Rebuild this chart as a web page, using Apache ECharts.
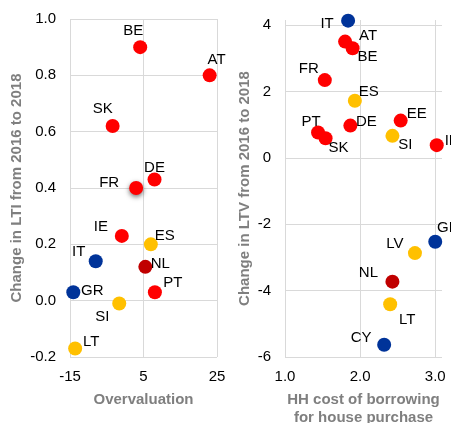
<!DOCTYPE html>
<html>
<head>
<meta charset="utf-8">
<style>
  html, body { margin: 0; padding: 0; background: #ffffff; }
  #chart { width: 451px; height: 423px; }
</style>
<script src="https://cdn.jsdelivr.net/npm/echarts@6/dist/echarts.min.js"></script>
</head>
<body>
<div id="chart"></div>
<script>
// Left panel: change in loan-to-income vs overvaluation
const ltiCountries = ['BE', 'AT', 'SK', 'DE', 'FR', 'IE', 'ES', 'IT', 'NL', 'GR', 'PT', 'SI', 'LT'];
const ltiOvervaluation = [4.1, 23.0, -3.4, 8.0, 3.0, -0.9, 7.0, -8.0, 5.5, -14.1, 8.1, -1.6, -13.6];
const ltiChange = [0.90, 0.80, 0.62, 0.43, 0.40, 0.23, 0.20, 0.14, 0.12, 0.03, 0.03, -0.01, -0.17];
const ltiGroup = ['A', 'A', 'A', 'A', 'A', 'A', 'C', 'B', 'D', 'B', 'A', 'C', 'C'];

// Right panel: change in loan-to-value vs household cost of borrowing
const ltvCountries = ['IT', 'AT', 'BE', 'FR', 'ES', 'EE', 'DE', 'PT', 'SK', 'SI', 'IE', 'GR', 'LV', 'NL', 'LT', 'CY'];
const ltvCost = [1.84, 1.80, 1.90, 1.53, 1.93, 2.54, 1.87, 1.44, 1.54, 2.43, 3.02, 3.00, 2.73, 2.43, 2.40, 2.32];
const ltvChange = [4.13, 3.50, 3.30, 2.34, 1.72, 1.12, 0.97, 0.76, 0.59, 0.66, 0.38, -2.53, -2.87, -3.73, -4.41, -5.63];
const ltvGroup = ['B', 'A', 'A', 'A', 'C', 'A', 'A', 'A', 'A', 'C', 'A', 'B', 'C', 'D', 'C', 'B'];

// Axis ticks
const ltiXTicks = [-15, 5, 25];
const ltiYTicks = [-0.2, 0.0, 0.2, 0.4, 0.6, 0.8, 1.0];
const ltvXTicks = [1.0, 2.0, 3.0];
const ltvYTicks = [-6, -4, -2, 0, 2, 4];

// Styling
const groupColors = { A: '#ff0000', B: '#003399', C: '#ffc000', D: '#c00000' };
const FONT = '"Liberation Sans", Arial, sans-serif';
const GRID_COLOR = '#d9d9d9';
const TITLE_COLOR = '#7f7f7f';

// Label placement around each marker (pixels from marker centre)
const ltiLabelOffsets = {
  BE: [-7, -16], AT: [7, -15], SK: [-10, -17], DE: [0, -12], FR: [-27, -5],
  IE: [-21, -9], ES: [14, -8], IT: [-17, -9], NL: [15, -3], GR: [19, -1],
  PT: [18, -9], SI: [-17, 13], LT: [16, -7]
};
const ltvLabelOffsets = {
  IT: [-21, 3], AT: [23, -6], BE: [15, 9], FR: [-16, -11], ES: [14, -9],
  EE: [16, -7], DE: [16, -4], PT: [-7, -11], SK: [13, 10], SI: [13, 9],
  IE: [15, -4], GR: [13, -14], LV: [-20, -9], NL: [-24, -9], LT: [17, 16],
  CY: [-23, -7]
};
const ltiShadowed = ['FR'];

function buildPoints(names, xs, ys, groups, offsets, shadowed) {
  return names.map(function (name, i) {
    const item = {
      name: name,
      value: [xs[i], ys[i]],
      itemStyle: { color: groupColors[groups[i]], opacity: 1 },
      label: { offset: offsets[name] || [0, 0] }
    };
    if (shadowed && shadowed.indexOf(name) >= 0) {
      item.itemStyle.shadowColor = 'rgba(0,0,0,0.55)';
      item.itemStyle.shadowBlur = 5;
      item.itemStyle.shadowOffsetY = 2;
    }
    return item;
  });
}

function valueAxis(opts) {
  return Object.assign({
    type: 'value',
    axisLine: { show: false },
    axisTick: { show: false },
    splitLine: { show: true, lineStyle: { color: GRID_COLOR, width: 1 } },
    axisLabel: { color: '#000000', fontSize: 15, fontFamily: FONT },
    nameLocation: 'middle',
    nameTextStyle: { color: TITLE_COLOR, fontSize: 15, fontWeight: 'bold', fontFamily: FONT, lineHeight: 18 }
  }, opts);
}

const labelStyle = {
  show: true,
  position: 'inside',
  formatter: '{b}',
  color: '#000000',
  fontSize: 15,
  fontFamily: FONT,
  align: 'center',
  verticalAlign: 'middle'
};

const chart = echarts.init(document.getElementById('chart'), null, { renderer: 'canvas' });

chart.setOption({
  backgroundColor: '#ffffff',
  animation: false,
  grid: [
    { left: 70, right: 234, top: 19, bottom: 66, containLabel: false, outerBoundsMode: 'none' },
    { left: 285, right: 9, top: 20, bottom: 66, containLabel: false, outerBoundsMode: 'none' }
  ],
  xAxis: [
    valueAxis({
      gridIndex: 0,
      min: ltiXTicks[0], max: ltiXTicks[ltiXTicks.length - 1], interval: 20,
      name: 'Overvaluation', nameGap: 34,
      axisLabel: { color: '#000000', fontSize: 15, fontFamily: FONT, margin: 12,
        formatter: function (v) { return ltiXTicks.indexOf(v) >= 0 ? String(v) : ''; } }
    }),
    valueAxis({
      gridIndex: 1,
      min: ltvXTicks[0], max: 3.09, interval: 1,
      name: 'HH cost of borrowing\nfor house purchase', nameGap: 34,
      splitLine: { show: true, showMaxLine: false, lineStyle: { color: GRID_COLOR, width: 1 } },
      axisLabel: { color: '#000000', fontSize: 15, fontFamily: FONT, margin: 12, showMaxLabel: false,
        formatter: function (v) { return ltvXTicks.indexOf(v) >= 0 ? v.toFixed(1) : ''; } }
    })
  ],
  yAxis: [
    valueAxis({
      gridIndex: 0,
      min: ltiYTicks[0], max: ltiYTicks[ltiYTicks.length - 1], interval: 0.2,
      name: 'Change in LTI from 2016 to 2018', nameGap: 39,
      axisLabel: { color: '#000000', fontSize: 15, fontFamily: FONT, margin: 14,
        formatter: function (v) { return v.toFixed(1); } }
    }),
    valueAxis({
      gridIndex: 1,
      min: ltvYTicks[0], max: 4.15, interval: 2,
      name: 'Change in LTV from 2016 to 2018', nameGap: 29,
      splitLine: { show: true, showMaxLine: false, lineStyle: { color: GRID_COLOR, width: 1 } },
      axisLabel: { color: '#000000', fontSize: 15, fontFamily: FONT, margin: 14, showMaxLabel: false,
        formatter: function (v) { return ltvYTicks.indexOf(v) >= 0 ? String(v) : ''; } }
    })
  ],
  series: [
    {
      type: 'scatter',
      xAxisIndex: 0, yAxisIndex: 0,
      symbol: 'circle', symbolSize: 14,
      clip: false,
      itemStyle: { opacity: 1 },
      label: labelStyle,
      data: buildPoints(ltiCountries, ltiOvervaluation, ltiChange, ltiGroup, ltiLabelOffsets, ltiShadowed)
    },
    {
      type: 'scatter',
      xAxisIndex: 1, yAxisIndex: 1,
      symbol: 'circle', symbolSize: 14,
      clip: false,
      itemStyle: { opacity: 1 },
      label: labelStyle,
      data: buildPoints(ltvCountries, ltvCost, ltvChange, ltvGroup, ltvLabelOffsets, null)
    }
  ]
});
</script>
</body>
</html>
